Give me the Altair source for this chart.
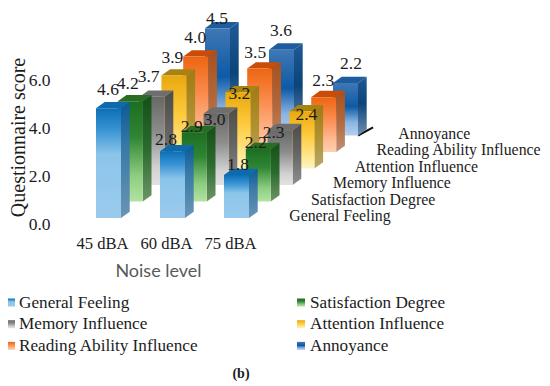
import altair as alt
import pandas as pd

noise_levels = ["45 dBA", "60 dBA", "75 dBA"]
series_names = ["General Feeling", "Satisfaction Degree", "Memory Influence",
                "Attention Influence", "Reading Ability Influence", "Annoyance"]
general_feeling = [4.6, 2.8, 1.8]
satisfaction_degree = [4.2, 2.9, 2.2]
memory_influence = [3.7, 3.0, 2.3]
attention_influence = [3.9, 3.2, 2.4]
reading_influence = [4.0, 3.5, 2.3]
annoyance = [4.5, 3.6, 2.2]
all_values = [general_feeling, satisfaction_degree, memory_influence,
              attention_influence, reading_influence, annoyance]
score_ticks = [0, 2, 4, 6]

# ---- layout and style, separate from the data ----
W, H = 534, 374
PX_X, PX_Y = 64.0, 23.85          # pixels per category, per score unit
BAR_W = 25 / PX_X
DEPTH_X, DEPTH_Y = 8.7 / PX_X, 6.3 / PX_Y
ROW_X, ROW_Y = 21.8 / PX_X, 16.5 / PX_Y
x0 = -88 / PX_X
y0 = (210 - H) / PX_Y
x_scale = alt.Scale(domain=[x0, x0 + W / PX_X], nice=False, zero=False)
y_scale = alt.Scale(domain=[y0, y0 + H / PX_Y], nice=False, zero=False)
SERIF = "Liberation Serif"
INK = "#1c1c1c"

# label nudges, pixels: lift above the front top edge and shift from the bar's left edge
label_lift = [[18, 11, 10], [17, 5, 6], [20, -6.5, -3], [17, -2, -4], [19, 16, 16], [9.5, 19, 19]]
label_shift = [[12, 6, 14], [10, 10, 10], [9, 11, 6], [11, 14, 17], [12, 8, 12], [12, 12, 18]]

front_stops = [
    [(0, "#0b6fb5"), (0.2, "#3a94d4"), (0.42, "#8cc5ea"), (1, "#9acbee")],
    [(0, "#1c6e22"), (0.35, "#2f8533"), (0.75, "#8fce82"), (1, "#b2e2a2")],
    [(0, "#686868"), (0.4, "#8c8c8c"), (0.8, "#d2d2d2"), (1, "#e2e2e2")],
    [(0, "#e8a80e"), (0.4, "#fdc93a"), (0.8, "#ffe88f"), (1, "#fff3c4")],
    [(0, "#ee6512"), (0.4, "#fa8d4f"), (0.8, "#ffbd98"), (1, "#ffcfb2")],
    [(0, "#3f78b5"), (0.45, "#0e5aa6"), (0.75, "#8ab4e2"), (1, "#b5d0ef")],
]
side_stops = [
    [(0, "#0b5a94"), (0.4, "#3a7aa8"), (1, "#6a94b3")],
    [(0, "#154f19"), (0.5, "#2a6a2d"), (1, "#6f9468")],
    [(0, "#4c4c4c"), (0.5, "#666666"), (1, "#8f8f8f")],
    [(0, "#9d7b14"), (0.5, "#b0922f"), (1, "#b8a76a")],
    [(0, "#a9501c"), (0.5, "#b5683a"), (1, "#c09078")],
    [(0, "#1f5a96"), (0.45, "#0c4478"), (1, "#6f8fb2")],
]
top_colors = ["#0f69ad", "#286d22", "#6e6e6e", "#a9830f", "#c94d08", "#1e5c9e"]


def gradient(stops):
    return alt.Gradient(gradient="linear", x1=0, y1=0, x2=0, y2=1,
                        stops=[alt.GradientStop(offset=o, color=c) for o, c in stops])


X = lambda f: alt.X(f"{f}:Q", scale=x_scale)
Y = lambda f: alt.Y(f"{f}:Q", scale=y_scale)

layers = []

# axes, carried by an invisible layer
axis_data = pd.DataFrame({"c": [0, 1, 2], "s": [0, 2, 4]})
label_expr = "[" + ",".join(f"'{n}'" for n in noise_levels) + "][datum.value]"
layers.append(
    alt.Chart(axis_data).mark_point(opacity=0).encode(
        x=alt.X("c:Q", scale=x_scale, axis=alt.Axis(
            values=[0, 1, 2], labelExpr=label_expr, domain=False, ticks=False, grid=False,
            labelFont=SERIF, labelFontSize=16.6, labelColor=INK, labelOffset=6, labelPadding=0,
            offset=-(H - 227), title="Noise level", titleFont="Lato", titleFontSize=18,
            titleFontWeight="normal", titleColor="#595959", titleX=150, titleY=27)),
        y=alt.Y("s:Q", scale=y_scale, axis=alt.Axis(
            values=score_ticks, format=".1f", domain=False, ticks=False, grid=False,
            labelFont=SERIF, labelFontSize=17.5, labelColor=INK, labelOffset=6, labelPadding=0,
            offset=-42, title="Questionnaire score", titleFont=SERIF, titleFontSize=20,
            titleFontWeight="normal", titleColor=INK, titleX=-21.5, titleY=129)),
    )
)

# floor corner behind the last bar
r_back = len(series_names) - 1
fx = 2 + r_back * ROW_X + BAR_W + DEPTH_X
floor = pd.DataFrame({"x": [fx - DEPTH_X, fx + 0.1],
                      "y": [r_back * ROW_Y, r_back * ROW_Y + DEPTH_Y + 0.08]})
layers.append(alt.Chart(floor).mark_line(color="#111111", strokeWidth=2).encode(x=X("x"), y=Y("y")))

# bars, back row first
for r in range(len(series_names) - 1, -1, -1):
    vals = all_values[r]
    rows = []
    for c, v in enumerate(vals):
        rows.append({"col": c, "xl": c + r * ROW_X, "xr": c + r * ROW_X + BAR_W,
                     "base": r * ROW_Y, "top": r * ROW_Y + v})
    df = pd.DataFrame(rows)

    side = []
    for _, b in df.iterrows():
        side.append({"col": b.col, "x": b.xr, "y": b.base, "y2": b.top})
        side.append({"col": b.col, "x": b.xr + DEPTH_X, "y": b.base + DEPTH_Y, "y2": b.top + DEPTH_Y})
    layers.append(alt.Chart(pd.DataFrame(side)).mark_area(
        orient="vertical", fill=gradient(side_stops[r])).encode(
        x=X("x"), y=Y("y"), y2="y2:Q", detail="col:N"))

    top = []
    for _, b in df.iterrows():
        top.append({"col": b.col, "y": b.top, "x": b.xl, "x2": b.xr})
        top.append({"col": b.col, "y": b.top + DEPTH_Y, "x": b.xl + DEPTH_X, "x2": b.xr + DEPTH_X})
    layers.append(alt.Chart(pd.DataFrame(top)).mark_area(
        orient="horizontal", fill=top_colors[r]).encode(
        x=X("x"), x2="x2:Q", y=Y("y"), detail="col:N"))

    layers.append(alt.Chart(df).mark_rect(fill=gradient(front_stops[r])).encode(
        x=X("xl"), x2="xr:Q", y=Y("base"), y2="top:Q"))

# value labels
labels = []
for r, vals in enumerate(all_values):
    for c, v in enumerate(vals):
        labels.append({"x": c + r * ROW_X + label_shift[r][c] / PX_X,
                       "y": r * ROW_Y + v + label_lift[r][c] / PX_Y,
                       "t": f"{v:.1f}"})
layers.append(alt.Chart(pd.DataFrame(labels)).mark_text(
    font=SERIF, fontSize=17.5, color=INK).encode(x=X("x"), y=Y("y"), text="t:N"))

# depth axis labels
depth = pd.DataFrame([{"x": 2 + r * ROW_X + 1.02, "y": r * ROW_Y + 2 / PX_Y, "t": n}
                      for r, n in enumerate(series_names)])
layers.append(alt.Chart(depth).mark_text(
    font=SERIF, fontSize=15.8, color=INK, align="left").encode(x=X("x"), y=Y("y"), text="t:N"))

# legend
for i, n in enumerate(series_names):
    cx = 0 if i % 2 == 0 else 290
    ly = 294.5 + (i // 2) * 21.7
    d = pd.DataFrame({"t": [n]})
    layers.append(alt.Chart(d).mark_rect(fill=gradient(front_stops[i])).encode(
        x=alt.value(cx - 1), x2=alt.value(cx + 7), y=alt.value(ly - 4), y2=alt.value(ly + 4)))
    layers.append(alt.Chart(d).mark_text(
        font=SERIF, fontSize=17.2, color=INK, align="left").encode(
        x=alt.value(cx + 11 + (1 if i % 2 else 0)), y=alt.value(ly), text="t:N"))

# caption
layers.append(alt.Chart(pd.DataFrame({"t": ["(b)"]})).mark_text(
    font=SERIF, fontSize=14, fontWeight="bold", color=INK).encode(
    x=alt.value(233), y=alt.value(366), text="t:N"))

chart = alt.layer(*layers).properties(
    width=W, height=H, padding=0, autosize=alt.AutoSizeParams(type="none")
).configure_view(stroke=None)

chart.save("out.html", embed_options={"renderer": "svg", "actions": False})
